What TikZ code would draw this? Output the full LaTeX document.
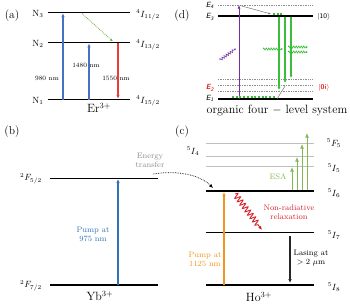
\documentclass[tikz,border=0pt]{standalone}
\usetikzlibrary{decorations.pathmorphing,arrows.meta}
\definecolor{ablue}{RGB}{68,114,196}
\definecolor{bblue}{RGB}{46,117,182}
\definecolor{ared}{RGB}{235,60,60}
\definecolor{agreen}{RGB}{112,173,71}
\definecolor{cred}{RGB}{214,35,42}
\definecolor{corange}{RGB}{240,150,30}
\definecolor{cgreen}{RGB}{130,185,80}
\definecolor{dgreen}{RGB}{60,190,60}
\definecolor{dpurple}{RGB}{112,48,160}
\definecolor{dred}{RGB}{230,30,30}
\begin{document}
\begin{tikzpicture}[x=1pt,y=-1pt,
  lvl/.style={line width=1.5pt},
  glvl/.style={line width=0.9pt, black!25},
  dlvl/.style={densely dotted, black!45, line width=0.7pt},
  arr/.style={-{Latex[length=4pt,width=3.5pt]}, line width=1.2pt},
  plab/.style={font=\fontsize{11.5}{13}\selectfont},
  ion/.style={font=\fontsize{12}{14}\selectfont},
  term/.style={font=\fontsize{9}{11}\selectfont, inner sep=0pt},
  small/.style={font=\fontsize{6.5}{7.5}\selectfont, inner sep=0pt},
  note/.style={font=\fontsize{8}{8.8}\selectfont, align=center, inner sep=0pt},
  elab/.style={font=\sffamily\itshape\fontsize{7.5}{8}\selectfont, inner sep=0pt},
  dot/.style={fill=dgreen, draw=none, minimum size=2pt, inner sep=0pt}
]
\useasboundingbox (0,0) rectangle (350,306);

% ---------------- (a) ----------------
\node[plab] (pa) at (12,16) {(a)};
\coordinate (n3l) at (48,12.5); \coordinate (n3r) at (130,12.5);
\coordinate (n2l) at (48,42.7); \coordinate (n2r) at (130,42.7);
\coordinate (n1l) at (48,99.5); \coordinate (n1r) at (130,99.5);
\draw[lvl] (n3l) -- (n3r);
\draw[lvl] (n2l) -- (n2r);
\draw[lvl] (n1l) -- (n1r);
\node[term] (N3) at (38,14) {N$_3$};
\node[term] (N2) at (38,44) {N$_2$};
\node[term] (N1) at (38,101) {N$_1$};
\node[term, anchor=west] (I11) at (136,15) {$^4I_{11/2}$};
\node[term, anchor=west] (I13) at (136,45) {$^4I_{13/2}$};
\node[term, anchor=west] (I15) at (136,101) {$^4I_{15/2}$};
\coordinate (a1b) at (63,99.5); \coordinate (a1t) at (63,13.2);
\coordinate (a2b) at (89,99.5); \coordinate (a2t) at (89,43.4);
\coordinate (a3t) at (118,43.4); \coordinate (a3b) at (118,98.8);
\draw[arr, ablue] (a1b) -- (a1t);
\draw[arr, ablue] (a2b) -- (a2t);
\draw[arr, ared] (a3t) -- (a3b);
\coordinate (gs) at (82,13.5); \coordinate (ge) at (113,41.5);
\draw[densely dotted, agreen, line width=0.8pt, -{Latex[length=3pt,width=2.5pt]}] (gs) -- (ge);
\node[small] (w980) at (47,78) {980 nm};
\node[small] (w1480) at (86,65) {1480 nm};
\node[small] (w1550) at (116,78) {1550 nm};
\node[ion] (Er) at (99,108) {Er$^{3+}$};

% ---------------- (b) ----------------
\node[plab] (pb) at (12,132) {(b)};
\coordinate (f5l) at (50,178.3); \coordinate (f5r) at (158,178.3);
\coordinate (f7l) at (50,285); \coordinate (f7r) at (158,285);
\draw[lvl] (f5l) -- (f5r);
\draw[lvl] (f7l) -- (f7r);
\node[term] (F5) at (31,178.5) {$^2F_{5/2}$};
\node[term] (F7) at (31,285.5) {$^2F_{7/2}$};
\coordinate (bb) at (118,285); \coordinate (bt) at (118,179);
\draw[arr, bblue] (bb) -- (bt);
\node[note, text=bblue] (pump1) at (93,234) {Pump at\\975 nm};
\node[ion] (Yb) at (100,296) {Yb$^{3+}$};
\node[note, text=black!45] (et) at (150,160) {Energy\\transfer};
\coordinate (ets) at (153,174); \coordinate (ete) at (213,188);
\draw[densely dotted, line width=0.7pt, -{Latex[length=4pt,width=3.5pt]}] (ets) .. controls (178,170) and (200,175) .. (ete);

% ---------------- (c) ----------------
\node[plab] (pc) at (182,132) {(c)};
\draw[glvl] (206,143) -- (314,143);
\draw[glvl] (206,156) -- (314,156);
\draw[glvl] (206,166) -- (314,166);
\coordinate (i6l) at (206,191); \coordinate (i6r) at (314,191);
\coordinate (i7l) at (206,232.7); \coordinate (i7r) at (314,232.7);
\coordinate (i8l) at (206,285); \coordinate (i8r) at (314,285);
\draw[lvl] (i6l) -- (i6r);
\draw[lvl] (i7l) -- (i7r);
\draw[lvl] (i8l) -- (i8r);
\node[term] (F5c) at (334,143) {$^5F_5$};
\node[term] (I4c) at (193,151) {$^5I_4$};
\node[term] (I5c) at (334,168) {$^5I_5$};
\node[term] (I6c) at (334,193) {$^5I_6$};
\node[term] (I7c) at (334,235) {$^5I_7$};
\node[term] (I8c) at (334,287) {$^5I_8$};
\foreach \x/\y in {292/167,297/157,302/144,307/133}{
  \draw[cgreen, line width=0.9pt, -{Latex[length=4.5pt,width=4pt]}] (\x,190) -- (\x,\y);
}
\node[note, text=cgreen] (esa) at (278,177) {ESA};
\coordinate (ob) at (224,285); \coordinate (ot) at (224,192);
\draw[arr, corange] (ob) -- (ot);
\node[note, text=corange] (pump2) at (205,259) {Pump at\\1125 nm};
\coordinate (rs) at (235,194); \coordinate (re) at (262,230);
\draw[cred, line width=0.9pt, -{Latex[length=4pt,width=3.5pt]},
  decorate, decoration={snake, amplitude=2.8pt, segment length=4.2pt, post length=6pt}] (rs) -- (re);
\node[note, text=cred] (nr) at (289,212) {Non-radiative\\relaxation};
\coordinate (ls) at (290,236); \coordinate (le) at (290,283);
\draw[arr, black!85] (ls) -- (le);
\node[note] (las) at (311,258) {Lasing at\\$>2\ \mu$m};
\node[ion] (Ho) at (259,297) {Ho$^{3+}$};

% ---------------- (d) ----------------
\node[plab] (pd) at (182,16) {(d)};
\draw[dlvl] (218,5) -- (313,5);
\coordinate (e3l) at (218,16); \coordinate (e3r) at (313,16);
\coordinate (e1l) at (218,99); \coordinate (e1r) at (313,99);
\draw[lvl] (e3l) -- (e3r);
\draw[dlvl] (218,79) -- (313,79);
\draw[dlvl] (218,85) -- (313,85);
\draw[dlvl] (218,91) -- (313,91);
\draw[lvl] (e1l) -- (e1r);
\node[elab] (E4) at (210,5) {E\textsubscript{4}};
\node[elab] (E3) at (210,17) {E\textsubscript{3}};
\node[elab, text=dred, font=\sffamily\bfseries\itshape\fontsize{7.5}{8}\selectfont] (E2) at (210,88) {E\textsubscript{2}};
\node[elab] (E1) at (210,98) {E\textsubscript{1}};
\node[font=\sffamily\fontsize{7}{8}\selectfont, inner sep=0pt] (k10) at (324,17) {|10$\rangle$};
\node[font=\sffamily\bfseries\fontsize{7}{8}\selectfont, text=dred, inner sep=0pt] (k0i) at (324,88) {|0i$\rangle$};
\coordinate (pb1) at (239,99); \coordinate (pt1) at (239,5);
\draw[dpurple, line width=1pt, -{Latex[length=3.5pt,width=3pt]}] (pb1) -- (pt1);
\coordinate (nrs) at (240,5.5); \coordinate (nre) at (271,14);
\draw[black!55, line width=0.5pt, -{Latex[length=2.5pt,width=2pt]}] (nrs) -- (nre);
\foreach \x in {274,277.5,281}{ \node[dot] at (\x,14) {}; }
\foreach \i in {0,...,11}{ \node[dot] at (233+\i*3.7,97) {}; }
\foreach \x/\y in {279/90,285/83,291/78}{
  \draw[dgreen, line width=1.3pt, -{Latex[length=3pt,width=3pt]}] (\x,17) -- (\x,\y);
}
\coordinate (gls) at (285,86); \coordinate (gle) at (277,99);
\draw[black!55, line width=0.5pt] (gls) -- (gle);
\coordinate (ps) at (220,60); \coordinate (pe) at (236,48.5);
\draw[dpurple, line width=0.6pt, -{Latex[length=2pt,width=2pt]},
  decorate, decoration={snake, amplitude=1.2pt, segment length=2.5pt, post length=2pt}] (ps) -- (pe);
\foreach \a/\b/\y in {263/283/49, 288/308/47, 288/308/52}{
  \draw[dgreen, line width=0.6pt, -{Latex[length=2pt,width=2pt]},
    decorate, decoration={snake, amplitude=1.1pt, segment length=2.5pt, post length=2pt}] (\a,\y) -- (\b,\y);
}
\node[font=\fontsize{12}{14}\selectfont, inner sep=0pt] (org) at (277,111) {organic four $-$ level system};
\end{tikzpicture}
\end{document}
